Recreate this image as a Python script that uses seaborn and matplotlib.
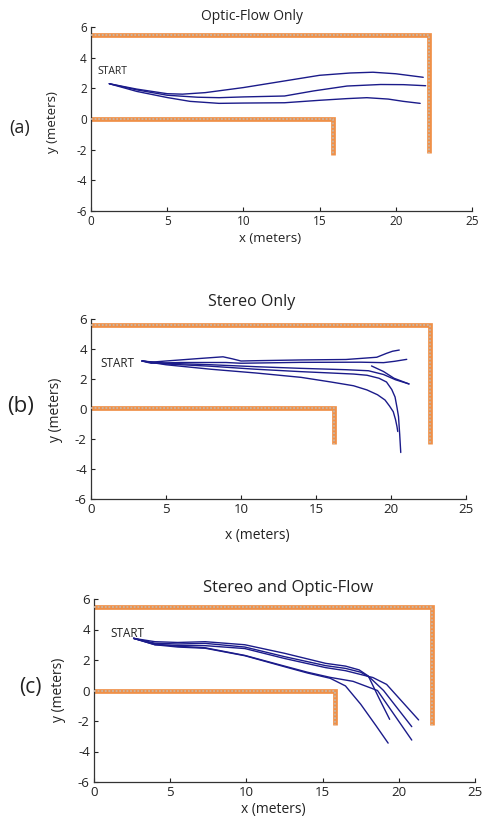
import numpy as np
import pandas as pd
import seaborn as sns
import matplotlib.pyplot as plt

# ---- data (meters) ----
titles = ['Optic-Flow Only', 'Stereo Only', 'Stereo and Optic-Flow']
panel_tags = ['(a)', '(b)', '(c)']

# walls: outer corridor (top + right) and inner corner (bottom + stub)
outer_wall_x = [[0, 22.2, 22.2], [0, 22.6, 22.6], [0, 22.16, 22.16]]
outer_wall_y = [[5.5, 5.5, -2.2], [5.62, 5.62, -2.3], [5.48, 5.48, -2.26]]
inner_wall_x = [[0, 15.9, 15.9], [0, 16.2, 16.2], [0, 15.84, 15.84]]
inner_wall_y = [[0.0, 0.0, -2.35], [0.05, 0.05, -2.3], [-0.03, -0.03, -2.26]]

start_label_xy = [(0.4, 3.1), (0.6, 3.05), (1.1, 3.75)]

# (a) optic flow only
runs_a = [
    ([1.2, 3, 5, 6, 7.5, 10, 12.5, 15, 17, 18.5, 20, 21.8],
     [2.3, 1.95, 1.65, 1.62, 1.72, 2.05, 2.45, 2.85, 3.0, 3.05, 2.95, 2.72]),
    ([1.2, 3, 5, 7, 8.4, 10, 12.7, 14.6, 16.8, 19, 20.5, 21.96],
     [2.3, 1.9, 1.55, 1.42, 1.39, 1.44, 1.5, 1.83, 2.15, 2.25, 2.24, 2.17]),
    ([1.2, 3, 5, 6.5, 8.4, 10, 12.7, 15, 16.8, 18.1, 19.5, 20.5, 21.6],
     [2.3, 1.8, 1.4, 1.15, 1.02, 1.04, 1.06, 1.22, 1.33, 1.39, 1.3, 1.15, 1.02]),
]

# (b) stereo only
runs_b = [
    ([3.4, 4, 5, 7, 8.8, 9.4, 10, 11, 14, 17, 19.05, 19.7, 20.1, 20.55],
     [3.2, 3.12, 3.2, 3.35, 3.48, 3.35, 3.2, 3.22, 3.27, 3.3, 3.45, 3.71, 3.85, 3.93]),
    ([3.4, 4, 6, 9, 10, 14, 18, 19.5, 20.24, 21.05],
     [3.2, 3.05, 3.1, 3.1, 3.05, 3.11, 3.12, 3.09, 3.18, 3.31]),
    ([3.4, 5, 8, 11, 14, 17, 18.5, 19.5, 20.3, 21.2],
     [3.2, 3.05, 2.95, 2.82, 2.71, 2.62, 2.55, 2.3, 1.95, 1.67]),
    ([18.7, 19.5, 20.2, 21.2],
     [2.87, 2.5, 2.05, 1.67]),
    ([3.4, 5, 8, 11, 14, 16, 17.5, 18.4, 19.2, 19.7, 20.05, 20.27, 20.4, 20.5, 20.58, 20.65],
     [3.2, 3.0, 2.85, 2.65, 2.49, 2.4, 2.33, 2.25, 2.05, 1.8, 1.3, 0.8, 0.1, -0.5, -1.7, -2.9]),
    ([3.4, 5, 8, 11, 14, 16, 17.5, 18.4, 19.1, 19.6, 19.9, 20.15, 20.3, 20.4, 20.45],
     [3.2, 2.95, 2.65, 2.4, 2.11, 1.8, 1.55, 1.27, 0.95, 0.6, 0.2, -0.18, -0.7, -1.18, -1.5]),
]

# (c) stereo and optic flow
runs_c = [
    ([2.6, 4, 5.5, 7.3, 9.9, 12.5, 14, 15.5, 16.5, 17.5, 18.5, 19.3],
     [3.42, 3.0, 2.85, 2.77, 2.28, 1.56, 1.15, 0.8, 0.3, -0.9, -2.3, -3.45]),
    ([2.6, 4, 5.5, 7.3, 9.9, 12.5, 14, 15.5, 17, 18.6, 19.5, 20.85],
     [3.42, 3.05, 2.9, 2.8, 2.3, 1.6, 1.2, 0.86, 0.6, 0.0, -1.3, -3.25]),
    ([2.6, 4, 5.5, 7.3, 9.9, 12.5, 15.2, 16.5, 17.4, 18.0, 18.7, 19.4],
     [3.42, 3.2, 3.15, 3.2, 3.0, 2.44, 1.78, 1.6, 1.35, 0.95, -0.5, -1.89]),
    ([2.6, 4, 5.5, 7.3, 9.9, 12.5, 15.2, 16.5, 17.5, 18.1, 19.0, 20.85],
     [3.42, 3.1, 3.05, 3.09, 2.85, 2.22, 1.63, 1.45, 1.2, 0.85, 0.0, -2.37]),
    ([2.6, 4, 5.5, 7.3, 9.9, 12.5, 15.2, 16.5, 17.5, 18.3, 19.2, 21.3],
     [3.42, 3.0, 2.95, 2.94, 2.75, 2.1, 1.5, 1.3, 1.05, 0.85, 0.4, -1.93]),
]
all_runs = [runs_a, runs_b, runs_c]

# ---- layout (pixels in the 486x818 reference) ----
W, H = 486, 818
axes_px = [(91, 27, 472, 211), (91, 319, 466, 499), (94, 599, 475, 782)]
title_px = [(252, 17, 10), (252, 302, 11.5), (288, 588, 12)]
tag_px = [(20, 128, 13), (21, 407, 16), (30, 687, 15)]
xlab_px = [(270, 239), (257, 535), (273, 809)]
ylab_px = [(52, 122), (55, 410), (59, 690)]
tick_size = [8.5, 9.5, 9.5]
lab_size = [9.5, 10, 10]

sns.set_style('ticks')
plt.rcParams['font.family'] = ['Open Sans', 'DejaVu Sans']
plt.rcParams['axes.unicode_minus'] = False

line_color = '#1b1b8a'
wall_edge = '#ef9048'
wall_core = '#c9b6a6'

fig = plt.figure(figsize=(W / 100, H / 100), dpi=100)

for i in range(3):
    l, t, r, b = axes_px[i]
    ax = fig.add_axes([l / W, 1 - b / H, (r - l) / W, (b - t) / H])

    for wx, wy in [(outer_wall_x[i], outer_wall_y[i]), (inner_wall_x[i], inner_wall_y[i])]:
        ax.plot(wx, wy, color=wall_edge, lw=3.4, solid_capstyle='butt', solid_joinstyle='miter', zorder=2)
        ax.plot(wx, wy, color=wall_core, lw=1.3, ls=(0, (1, 1)), solid_capstyle='butt', zorder=3)

    rows = []
    for k, (xs, ys) in enumerate(all_runs[i]):
        for x, y in zip(xs, ys):
            rows.append({'run': k, 'x': x, 'y': y})
    df = pd.DataFrame(rows)
    sns.lineplot(data=df, x='x', y='y', units='run', estimator=None, sort=False,
                 color=line_color, lw=1.0, ax=ax, zorder=4)

    sx, sy = start_label_xy[i]
    ax.text(sx, sy, 'START', fontsize=tick_size[i] - 1, ha='left', va='center', color='#222222')

    ax.set_xlim(0, 25)
    ax.set_ylim(-6, 6)
    ax.set_xticks(np.arange(0, 26, 5))
    ax.set_yticks(np.arange(-6, 7, 2))
    ax.tick_params(direction='in', length=3, width=0.8, labelsize=tick_size[i], pad=3, colors='#222222')
    ax.set_xlabel('')
    ax.set_ylabel('')
    sns.despine(ax=ax)
    for s in ['left', 'bottom']:
        ax.spines[s].set_linewidth(0.9)
        ax.spines[s].set_color('#333333')

    tx, ty, ts = title_px[i]
    fig.text(tx / W, 1 - ty / H, titles[i], fontsize=ts, ha='center', va='center', color='#222222')
    gx, gy, gs = tag_px[i]
    fig.text(gx / W, 1 - gy / H, panel_tags[i], fontsize=gs, ha='center', va='center', color='#222222')
    xx, xy = xlab_px[i]
    fig.text(xx / W, 1 - xy / H, 'x (meters)', fontsize=lab_size[i], ha='center', va='center', color='#222222')
    yx, yy = ylab_px[i]
    fig.text(yx / W, 1 - yy / H, 'y (meters)', fontsize=lab_size[i], ha='center', va='center',
             rotation=90, color='#222222')

fig.savefig('out.png', dpi=100)
